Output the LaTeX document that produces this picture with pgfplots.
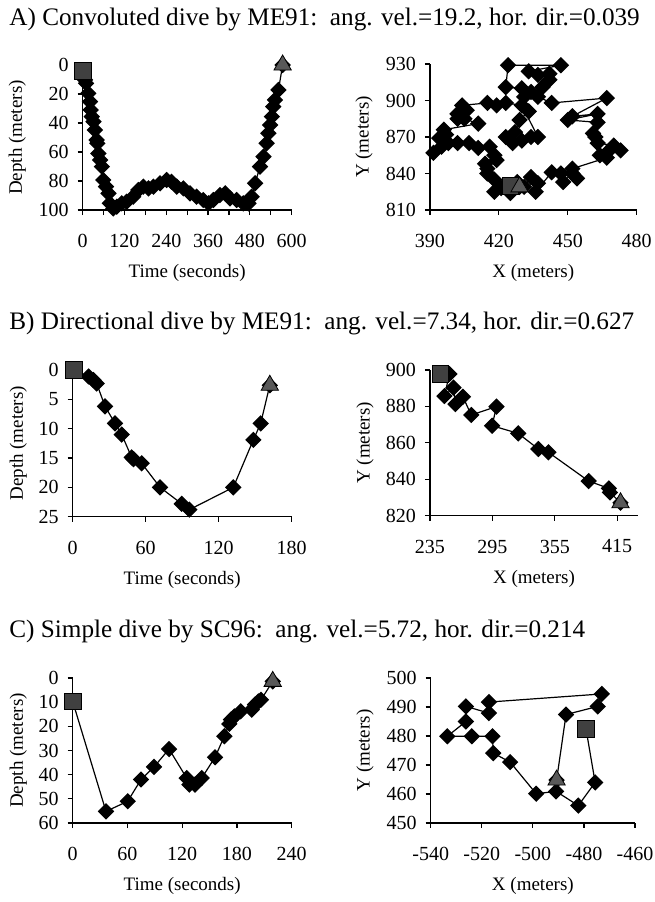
\documentclass[border=0pt]{standalone}
\usepackage{fontspec}
\setmainfont{Liberation Serif}
\usepackage{pgfplots}
\pgfplotsset{compat=1.18}

% shared look of the six panels
\pgfplotsset{
  dive/.style={
    scale only axis, anchor=south west, clip=false,
    axis x line=bottom, axis y line=left,
    axis line style={-, line width=0.7pt},
    tick align=outside, major tick length=2.5pt, minor tick length=2.5pt,
    tick style={black, line width=0.6pt},
    /pgf/number format/assume math mode=true,
    tick label style={font=\fontsize{10}{11}\selectfont},
    label style={font=\fontsize{9.5}{11}\selectfont},
    xticklabel style={yshift=-6pt},
    yticklabel style={xshift=-1pt},
    xlabel style={at={(axis description cs:0.5,0)}, anchor=center, yshift=-31.5pt},
  },
  track/.style={black, line width=0.6pt, mark=square*, mark size=2.6pt,
    mark options={rotate=45, solid, fill=black}},
  startpt/.style={only marks, mark=square*, mark size=4.2pt,
    mark options={fill=black!75, draw=black}},
  endpt/.style={only marks, mark=triangle*, mark size=5pt,
    mark options={fill=black!65, draw=black}},
}

\begin{document}
\begin{tikzpicture}
\path[use as bounding box] (0,0) rectangle (327.5pt,451pt);

\node[anchor=base west, inner sep=0, font=\fontsize{12.6}{15}\selectfont] at (4.5pt,438pt)
  {A) Convoluted dive by ME91:\ \ ang. vel.=19.2, hor. dir.=0.039};
\node[anchor=base west, inner sep=0, font=\fontsize{12.6}{15}\selectfont] at (4.5pt,286pt)
  {B) Directional dive by ME91:\ \ ang. vel.=7.34, hor. dir.=0.627};
\node[anchor=base west, inner sep=0, font=\fontsize{12.6}{15}\selectfont] at (4.5pt,132pt)
  {C) Simple dive by SC96:\ \ ang. vel.=5.72, hor. dir.=0.214};

% ---- A: depth profile
\begin{axis}[dive, at={(41.35pt,346pt)}, width=104.5pt, height=72.5pt,
  xmin=0, xmax=600, ymin=0, ymax=100, y dir=reverse,
  xtick={0,120,...,600}, minor xtick={60,180,...,540},
  ytick={0,20,...,100},
  xlabel={Time (seconds)}, ylabel={Depth (meters)},
  ylabel style={at={(axis description cs:-0.313,0.5)}, anchor=center}]
\addplot[track] coordinates {(0,4)(6.7,10.3)(9.6,12.6)(16,19.5)(21,25.3)(23,31)(26,35.6)
  (31,39.1)(35,44.8)(40,51.7)(42,54)(45,61)(50,65.5)(55,70.1)(59,79.3)(67,83.9)(74,88.5)
  (78,95.4)(88,98.9)(98,97.7)(112,95.4)(126,94.3)(145,90.8)(160,86.2)(174,83.9)(189,85.1)
  (203,83.9)(222,81.6)(241,79.3)(255,80.5)(270,83.9)(289,85.1)(308,88.5)(327,90.8)
  (346,93.1)(361,95.4)(375,93.1)(394,89.7)(409,88.5)(423,92)(442,93.1)(461,95.4)
  (476,95.4)(485,90.8)(495,81.6)(509,70.1)(519,63.2)(528,54)(533,47.1)(538,41.4)
  (543,35.6)(547,28.7)(552,24.1)(562,17.2)(574,0)};
\addplot[startpt] coordinates {(0,4)};
\addplot[endpt] coordinates {(574,0)};
\end{axis}

% ---- A: horizontal track
\begin{axis}[dive, at={(215pt,346pt)}, width=103.35pt, height=73pt,
  xmin=390, xmax=480, ymin=810, ymax=930,
  xtick={390,420,450,480}, ytick={810,840,...,930},
  xlabel={X (meters)}, ylabel={Y (meters)},
  ylabel style={at={(axis description cs:-0.319,0.5)}, anchor=center}]
\addplot[track] coordinates {(425,830)(428,833)(431,829)(434,837)(437,832)(436,825)
  (443,841)(447,840)(448,833)(452,840)(454,836)(452,844)(467,853)(464,855)(467,857)
  (473,859)(470,863)(463,865)(462,870)(461,873)(463,882)(450,884)(463,889)(452,887)
  (467,902)(443,898)(437,903)(434,907)(430,910)(423,911)(424,929)(447,929)(433,924)
  (437,921)(442,922)(442,917)(439,911)(431,903)(433,891)(429,884)(427,874)(423,870)
  (426,865)(430,867)(434,870)(437,870)(430,896)(423,898)(419,896)(415,898)(404,896)
  (402,889)(406,892)(402,885)(405,885)(411,881)(396,876)(394,869)(397,872)(395,862)
  (398,865)(391.5,857)(402,865)(407,865)(411,861)(416,862)(418,855)(419,851)(414,848)
  (415,844)(415,840)(418,835)(421,828)(418,825)(425,824)(429,829)};
\addplot[startpt] coordinates {(425,830)};
\addplot[endpt] coordinates {(429,829)};
\end{axis}

% ---- B: depth profile
\begin{axis}[dive, at={(36.35pt,192.65pt)}, width=109.5pt, height=73.35pt,
  xmin=0, xmax=180, ymin=0, ymax=25, y dir=reverse,
  xtick={0,60,120,180}, ytick={0,5,...,25},
  xlabel={Time (seconds)}, ylabel={Depth (meters)},
  ylabel style={at={(axis description cs:-0.248,0.5)}, anchor=center}]
\addplot[track] coordinates {(1,0)(13,1.1)(17,1.7)(19.7,2.3)(26.6,6.2)(34.8,9.1)
  (40.3,11)(48.5,14.9)(50,15.2)(56.7,15.9)(71.8,20)(89.6,22.8)(95.9,23.8)(132,20)
  (148.5,11.9)(154.5,9.1)(162,2.6)};
\addplot[startpt] coordinates {(1,0)};
\addplot[endpt] coordinates {(162,2.6)};
\end{axis}

% ---- B: horizontal track
\begin{axis}[dive, at={(215pt,193.15pt)}, width=104pt, height=72.85pt,
  xmin=235, xmax=435, ymin=820, ymax=900,
  xtick={235,295,355,415}, ytick={820,840,...,900},
  xlabel={X (meters)}, ylabel={Y (meters)},
  ylabel style={at={(axis description cs:-0.3125,0.5)}, anchor=center}]
\addplot[track] coordinates {(245,897.8)(253.7,897.8)(248.9,885.7)(257.6,890.3)
  (259.5,881.3)(266.6,885.3)(274.7,875.3)(298.9,879.9)(294.7,869.4)(319.8,865.2)
  (339.2,856.6)(348.9,854.8)(387.6,839)(407,835)(408,832.8)(418.2,827.1)};
\addplot[startpt] coordinates {(245,897.8)};
\addplot[endpt] coordinates {(418.2,827.1)};
\end{axis}

% ---- C: depth profile
\begin{axis}[dive, at={(36.35pt,39.5pt)}, width=109.5pt, height=72.5pt,
  xmin=0, xmax=240, ymin=0, ymax=60, y dir=reverse,
  xtick={0,60,...,240}, ytick={0,10,...,60},
  xlabel={Time (seconds)}, ylabel={Depth (meters)},
  ylabel style={at={(axis description cs:-0.248,0.5)}, anchor=center}]
\addplot[track] coordinates {(0,9.7)(36.5,55.2)(60.3,51)(74.9,42)(89.1,36.8)
  (105.6,29.4)(124.9,41.4)(127.9,44.1)(134,44.1)(141.4,41.4)(156,32.8)(166.2,24.1)
  (171.7,19)(173.5,17.2)(177.2,15.9)(184.1,13.8)(196.2,13.1)(199.8,11)(203.5,9.7)
  (206.4,9)(219.2,1.4)};
\addplot[startpt] coordinates {(0,9.7)};
\addplot[endpt] coordinates {(219.2,1.4)};
\end{axis}

% ---- C: horizontal track
\begin{axis}[dive, at={(215.35pt,39.5pt)}, width=102.15pt, height=72.5pt,
  xmin=-540, xmax=-460, ymin=450, ymax=500,
  xtick={-540,-520,...,-460}, ytick={450,460,...,500},
  xlabel={X (meters)}, ylabel={Y (meters)},
  ylabel style={at={(axis description cs:-0.321,0.5)}, anchor=center}]
\addplot[track] coordinates {(-479.2,482.5)(-475.6,464)(-482.2,456)(-490.9,460.9)
  (-498.7,460.1)(-508.9,471)(-515.5,474.1)(-515.8,479.9)(-523.9,479.9)(-533.5,479.9)
  (-526.2,485)(-526.2,490.2)(-517.2,487.9)(-517.2,491.7)(-473,494.5)(-474.6,490.2)
  (-487,487.4)(-490.7,464.8)};
\addplot[startpt] coordinates {(-479.2,482.5)};
\addplot[endpt] coordinates {(-490.7,464.8)};
\end{axis}
\end{tikzpicture}
\end{document}
